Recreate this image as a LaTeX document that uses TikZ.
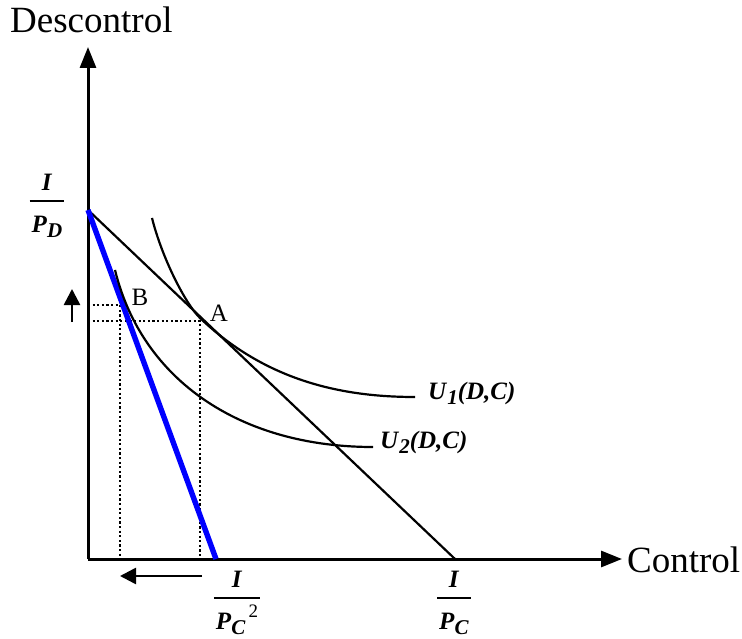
\documentclass[tikz,border=0pt]{standalone}
\usepackage{amsmath}
\usepackage{fontspec}
\setmainfont{Liberation Serif}
\usetikzlibrary{arrows.meta}
\definecolor{budgetblue}{HTML}{0000FF}

\newcommand{\bi}[1]{\textbf{\textit{#1}}}
\newcommand{\lowsub}[1]{\raisebox{-0.2em}{\fontsize{21}{22}\selectfont\bi{#1}}}
\newcommand{\numer}[1]{\mbox{\bi{#1}\rule[-0.2em]{0pt}{0pt}}}
\newcommand{\denom}[1]{\mbox{\rule{0pt}{1.05em}\hspace{2pt}#1\hspace{2pt}}}
\newcommand{\budgetfrac}[2]{\genfrac{}{}{1.6pt}{0}{\numer{#1}}{\denom{#2}}}

\tikzset{
  axisline/.style={line width=3pt, -{Triangle[length=21pt,width=16pt]}},
  shiftarrow/.style={line width=2.6pt, -{Triangle[length=16pt,width=16pt]}},
  budget/.style={line width=2.2pt},
  indiff/.style={line width=2.2pt},
  guide/.style={line width=2.4pt, dash pattern=on 2.2pt off 2.4pt},
  axislabel/.style={inner sep=0pt, font=\fontsize{37}{40}\selectfont},
  fraclabel/.style={inner sep=0pt, anchor=base, font=\fontsize{25}{28}\selectfont},
  curvelabel/.style={inner sep=0pt, anchor=west, font=\fontsize{25}{28}\selectfont},
  ptlabel/.style={inner sep=0pt, font=\fontsize{25}{28}\selectfont},
}

\begin{document}
\begin{tikzpicture}[x=1pt, y=-1pt]
  \useasboundingbox (0,0) rectangle (742,639);

  % points
  \coordinate (O) at (88,559);
  \coordinate (ytip) at (88,47);
  \coordinate (xtip) at (622,559);
  \coordinate (PD) at (88,210);
  \coordinate (PC) at (455,559);
  \coordinate (PC2) at (216,559);
  \coordinate (A) at (200,321);
  \coordinate (B) at (120,305);

  % axes
  \draw[axisline] (O) -- (ytip);
  \draw[axisline] (O) -- (xtip);
  \node[axislabel, anchor=base west] (desc) at (10,33) {Descontrol};
  \node[axislabel, anchor=base west] (ctrl) at (627,572) {Control};

  % guides
  \draw[guide] (O |- B) -| (O -| B);
  \draw[guide] (O |- A) -| (O -| A);

  % budget lines
  \draw[budget] (PD) -- (PC);
  \draw[line width=5.4pt, budgetblue] (PD) -- (PC2);

  % indifference curves
  \draw[indiff] (152,218) .. controls (162,258) and (185.5,304) .. (200,318)
    .. controls (265,380) and (340,397) .. (415,397);
  \draw[indiff] (115,270) .. controls (142,380) and (240,447) .. (373,447);

  % shifts
  \coordinate (upfrom) at (72,322);
  \coordinate (upto) at (72,289);
  \coordinate (leftfrom) at (202,576);
  \coordinate (leftto) at (120,576);
  \draw[shiftarrow] (upfrom) -- (upto);
  \draw[shiftarrow] (leftfrom) -- (leftto);

  % labels
  \node[fraclabel] (lPD) at (47,207) {$\budgetfrac{I}{\bi{P}\lowsub{D}}$};
  \node[fraclabel] (lPC2) at (237,604) {$\budgetfrac{I}{\bi{P}\lowsub{C}\hspace{3pt}\raisebox{0.5em}{\fontsize{19}{20}\selectfont 2}}$};
  \node[fraclabel] (lPC) at (454,604) {$\budgetfrac{I}{\bi{P}\lowsub{C}}$};
  \node[curvelabel] (lU1) at (428,393) {\bi{U}\lowsub{1}\bi{(D,C)}};
  \node[curvelabel] (lU2) at (380,442) {\bi{U}\lowsub{2}\bi{(D,C)}};
  \node[ptlabel] (lA) at (219,313) {A};
  \node[ptlabel] (lB) at (140,297) {B};
\end{tikzpicture}
\end{document}
